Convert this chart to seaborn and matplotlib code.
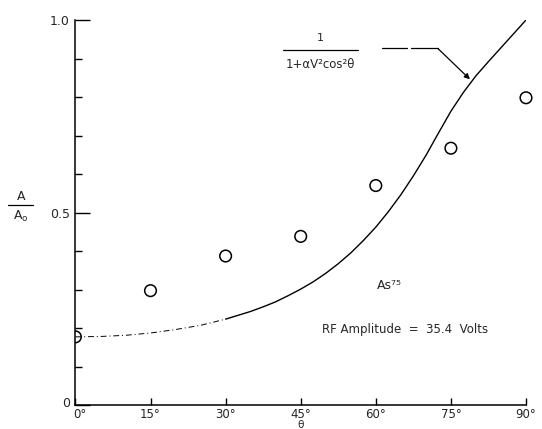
import matplotlib
matplotlib.use("Agg")
import matplotlib.pyplot as plt
import matplotlib.transforms as mtransforms
import seaborn as sns
import pandas as pd

# Measured points (open circles)
theta_pts = [0, 15, 30, 45, 60, 75, 90]
ratio_pts = [0.177, 0.297, 0.387, 0.438, 0.570, 0.667, 0.798]

# Curve 1/(1+aV^2 cos^2 theta)
theta_curve = [0, 5, 10, 15, 20, 25, 30, 35, 37.5, 40, 42.5, 45, 47.5, 50, 52.5, 55,
               57.5, 60, 62.5, 65, 67.5, 70, 72.5, 75, 77.5, 80, 82.5, 85, 87.5, 90]
ratio_curve = [0.177, 0.178, 0.181, 0.187, 0.196, 0.207, 0.223, 0.243, 0.255, 0.268,
               0.284, 0.301, 0.320, 0.342, 0.367, 0.395, 0.427, 0.462, 0.502, 0.546,
               0.595, 0.648, 0.706, 0.763, 0.812, 0.855, 0.892, 0.928, 0.964, 1.0]

xticks = [0, 15, 30, 45, 60, 75, 90]
xtick_labels = ["0°", "15°", "30°", "45°", "60°", "75°", "90°"]
yticks_major = [0, 0.5, 1.0]
ytick_labels = ["0", "0.5", "1.0"]
yticks_minor = [0.1, 0.2, 0.3, 0.4, 0.6, 0.7, 0.8, 0.9]

sns.set_theme(style="white")
plt.rcParams['font.family'] = ['DejaVu Sans']

W, H = 542, 429
fig = plt.figure(figsize=(W / 100, H / 100), dpi=100)
ax = fig.add_axes([75.4 / W, 24 / H, (526 - 75.4) / W, (405 - 20) / H])

df_curve = pd.DataFrame({"theta": theta_curve, "ratio": ratio_curve})
df_pts = pd.DataFrame({"theta": theta_pts, "ratio": ratio_pts})

dash_part = df_curve[df_curve.theta <= 30]
solid_part = df_curve[df_curve.theta >= 30]
sns.lineplot(data=dash_part, x="theta", y="ratio", ax=ax, color="black",
             linewidth=0.7, linestyle=(0, (6, 3, 1, 3)), estimator=None)
sns.lineplot(data=solid_part, x="theta", y="ratio", ax=ax, color="black",
             linewidth=1.0, estimator=None)
# first point sits on the axis and is half hidden; others fully drawn
sns.scatterplot(data=df_pts[df_pts.theta == 0], x="theta", y="ratio", ax=ax, s=70,
                facecolor="none", edgecolor="black", linewidth=1.1, zorder=5,
                clip_on=True)
sns.scatterplot(data=df_pts[df_pts.theta > 0], x="theta", y="ratio", ax=ax, s=70,
                facecolor="none", edgecolor="black", linewidth=1.1, zorder=5,
                clip_on=False)

ax.set_xlim(0, 90)
ax.set_ylim(0, 1.0)
for s in ["top", "right"]:
    ax.spines[s].set_visible(False)
for s in ["left", "bottom"]:
    ax.spines[s].set_color("black")
    ax.spines[s].set_linewidth(1.1)

ax.set_xticks(xticks)
ax.set_xticklabels(xtick_labels, fontsize=8.5)
ax.set_yticks(yticks_major)
ax.set_yticklabels(ytick_labels, fontsize=9)
ax.set_yticks(yticks_minor, minor=True)
ax.tick_params(axis="x", direction="in", length=5, width=1.0, color="black", pad=2, bottom=True)
ax.tick_params(axis="y", which="major", direction="in", length=11, width=1.0, color="black", pad=4, left=True)
ax.tick_params(axis="y", which="minor", direction="in", length=5, width=1.0, color="black", left=True)
ax.set_xlabel("")
ax.set_ylabel("")

# nudge the "0°" label right and the "0" label up, as in the reference
fig.canvas.draw()
xl0 = ax.get_xticklabels()[0]
xl0.set_transform(xl0.get_transform() + mtransforms.ScaledTranslation(4 / 100, 0, fig.dpi_scale_trans))
yl0 = ax.get_yticklabels()[0]
yl0.set_transform(yl0.get_transform() + mtransforms.ScaledTranslation(0, 3 / 100, fig.dpi_scale_trans))

# y label as fraction A / A0
fig.text(21 / W, 1 - 196 / H, "A", ha="center", va="center", fontsize=9)
fig.add_artist(plt.Line2D([8 / W, 33 / W], [1 - 205 / H, 1 - 205 / H], color="black", linewidth=0.9))
fig.text(21 / W, 1 - 216 / H, "A$_{\\mathrm{o}}$", ha="center", va="center", fontsize=9)

# x label theta
fig.text(301 / W, 1 - 425.5 / H, "θ", ha="center", va="center", fontsize=7.5)

# formula label
ax.text(48.9, 0.953, "1", ha="center", va="center", fontsize=8)
ax.plot([41.4, 56.4], [0.922, 0.922], color="black", linewidth=0.9)
ax.text(48.9, 0.885, "1+αV²cos²θ", ha="center", va="center", fontsize=8.5)
ax.plot([61.2, 66.2], [0.926, 0.926], color="black", linewidth=0.9)
ax.plot([67.0, 72.4], [0.926, 0.926], color="black", linewidth=0.9)
ax.annotate("", xy=(78.8, 0.846), xytext=(72.4, 0.926),
            arrowprops=dict(arrowstyle="-|>", color="black", lw=0.9,
                            mutation_scale=8, shrinkA=0, shrinkB=0))

ax.text(60.2, 0.31, "As⁷⁵", ha="left", va="center", fontsize=9)
ax.text(49.3, 0.197, "RF Amplitude  =  35.4  Volts", ha="left", va="center", fontsize=8.5)

fig.savefig("out.png", dpi=100)
